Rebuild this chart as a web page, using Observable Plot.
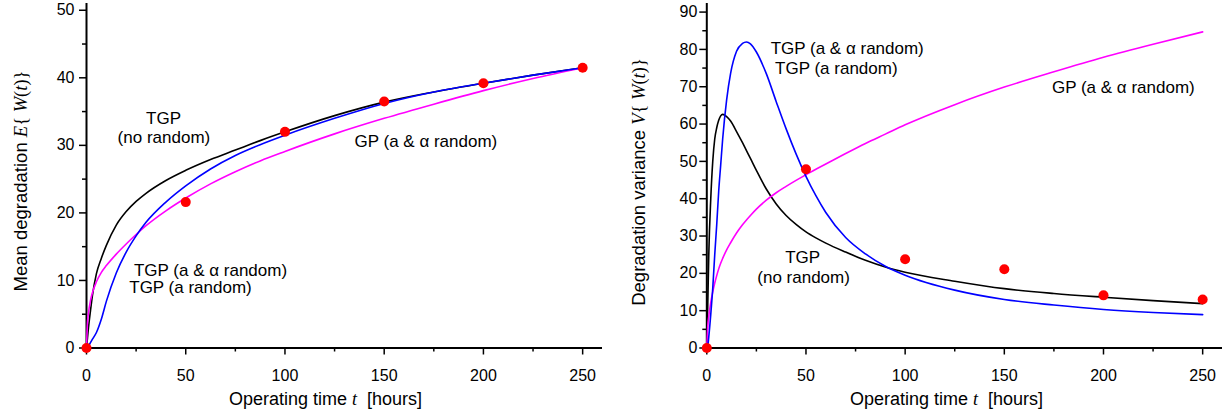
<!DOCTYPE html>
<html>
<head>
<meta charset="utf-8">
<script src="https://cdn.jsdelivr.net/npm/d3@7"></script>
<script src="https://cdn.jsdelivr.net/npm/@observablehq/plot@0.6"></script>
<style>
  html, body { margin: 0; padding: 0; background: #fff; }
  #wrap { display: flex; width: 1227px; height: 417px; overflow: hidden; }
  #wrap svg { flex: none; }
</style>
</head>
<body>
<div id="wrap"></div>
<script>
// ---- axis ticks ----
const xMajor = [0, 50, 100, 150, 200, 250];
const xMinor = [25, 75, 125, 175, 225];
const yMajorLeft = [0, 10, 20, 30, 40, 50];
const yMinorLeft = [5, 15, 25, 35, 45];
const yMajorRight = [0, 10, 20, 30, 40, 50, 60, 70, 80, 90];
const yMinorRight = [5, 15, 25, 35, 45, 55, 65, 75, 85];

// ---- observed data (red dots) ----
const obsT = [0, 50, 100, 150, 200, 250];
const obsMean = [0, 21.6, 32.0, 36.5, 39.2, 41.5];
const obsVar = [0, 47.9, 23.8, 21.1, 14.1, 13.0];

// ---- left panel: mean degradation curves ----
const tLeft = [0, 0.5, 1, 2, 3, 5, 7.5, 10, 15, 20, 25, 30, 40, 50, 62.5, 75, 87.5, 100, 125, 150, 175, 200, 225, 250];
const meanTGPnoRandom = [0, 1.5, 3, 5.5, 7.8, 11, 13.3, 15.2, 18.2, 20.2, 21.7, 22.9, 24.8, 26.3, 27.9, 29.3, 30.7, 32.0, 34.4, 36.4, 37.9, 39.2, 40.4, 41.5];
const meanTGPrandom = [0, 0.1, 0.3, 0.8, 1.3, 2.3, 4.3, 6.9, 11.1, 14.2, 16.6, 18.6, 21.6, 24.0, 26.5, 28.5, 30.1, 31.5, 34.0, 36.2, 37.9, 39.2, 40.4, 41.5];
const meanGP = [0, 3.8, 5.2, 7, 8.2, 9.8, 11.2, 12.2, 13.9, 15.4, 16.8, 18.1, 20.3, 22.2, 24.3, 26.1, 27.7, 29.1, 31.7, 34.0, 36.1, 38.1, 39.9, 41.5];

// ---- right panel: degradation variance curves ----
const tRight = [0, 0.5, 1, 2, 3, 4, 5, 6, 7, 8, 10, 12, 15, 18, 20, 22, 25, 30, 35, 40, 45, 50, 55, 60, 70, 80, 90, 100, 125, 150, 175, 200, 225, 250];
const varTGPnoRandom = [0, 12, 25, 40, 50, 56, 59, 61, 62.2, 62.6, 62, 60.8, 58, 55, 52.9, 50.8, 47.6, 42.6, 38.6, 35.5, 33.1, 31.1, 29.5, 28.1, 25.7, 23.5, 21.7, 20.3, 17.9, 15.9, 14.6, 13.6, 12.7, 11.9];
const varTGPrandom = [0, 0.5, 3, 9, 16, 25, 33, 42, 49, 56, 66.5, 73.6, 79.5, 81.6, 82, 81.5, 79.3, 73.5, 66, 58.7, 52, 46, 40.8, 36.3, 29.6, 25.2, 21.9, 19.5, 15.5, 13, 11.5, 10.3, 9.5, 8.95];
const varGP = [0, 6, 8.5, 12.2, 15, 17.4, 19.4, 21.2, 22.7, 24.0, 26.3, 28.2, 30.8, 33.0, 34.3, 35.5, 37.2, 39.6, 41.6, 43.3, 44.9, 46.4, 47.9, 49.3, 52.1, 54.8, 57.3, 59.8, 65.2, 69.9, 74, 77.9, 81.4, 84.7];

// ---- annotations ----
const notesLeftText = ["TGP", "(no random)", "GP (a & \u03b1 random)", "TGP (a & \u03b1 random)", "TGP (a random)"];
const notesLeftX = [38.8, 39, 171, 62.5, 52.4];
const notesLeftY = [34.0, 31.1, 30.5, 11.5, 9.0];
const notesRightText = ["TGP (a & \u03b1 random)", "TGP (a random)", "GP (a & \u03b1 random)", "TGP", "(no random)"];
const notesRightX = [70.8, 65.3, 210, 48.3, 48.8];
const notesRightY = [80.3, 75.0, 69.9, 24.3, 19.0];

const SANS = "Liberation Sans, Arial, Helvetica, sans-serif";
const SERIF = "Liberation Serif, Times New Roman, serif";

function table(ts, vs) { return ts.map((t, i) => ({t, v: vs[i]})); }

function panel(o) {
  return Plot.plot({
    width: o.width, height: 417,
    marginLeft: o.marginLeft, marginRight: o.marginRight, marginTop: 3, marginBottom: 69.5,
    x: {domain: [0, 260]},
    y: {domain: o.yDomain},
    style: {background: "white", color: "black", fontFamily: SANS, overflow: "visible"},
    marks: [
      Plot.axisX({ticks: xMinor, tickSize: 4, strokeWidth: 1.5, fill: "none", label: null, tickFormat: () => ""}),
      Plot.axisX({ticks: xMajor, tickSize: 7, tickPadding: 14.5, strokeWidth: 1.5, fontSize: 16, label: null, tickFormat: d => `${d}`}),
      Plot.axisY({ticks: o.yMinor, tickSize: 4, strokeWidth: 1.5, fill: "none", label: null, tickFormat: () => ""}),
      Plot.axisY({ticks: o.yMajor, tickSize: 7, tickPadding: o.yPad, strokeWidth: 1.5, fontSize: 16, label: null, tickFormat: d => `${d}`}),
      Plot.ruleY([0], {strokeWidth: 2}),
      Plot.ruleX([0], {strokeWidth: 2}),
      ...o.curves.map(c => Plot.line(table(c.t, c.v), {x: "t", y: "v", stroke: c.color, strokeWidth: 1.6, curve: "monotone-x"})),
      Plot.dot(table(obsT, o.obs), {x: "t", y: "v", r: 5, fill: "#ff0000"}),
      Plot.text(o.notes.text, {x: (d, i) => o.notes.x[i], y: (d, i) => o.notes.y[i], text: d => d, fontSize: 17, fill: "black", fontFamily: SANS})
    ]
  });
}

function addText(svg, {x, y, rotate, parts, size}) {
  const t = d3.select(svg).append("text")
    .attr("transform", `translate(${x},${y})` + (rotate ? ` rotate(${rotate})` : ""))
    .attr("text-anchor", "middle")
    .attr("font-size", size)
    .attr("fill", "black")
    .style("white-space", "pre");
  parts.forEach(p => {
    t.append("tspan")
      .attr("font-family", p.serif ? SERIF : SANS)
      .attr("font-style", p.italic ? "italic" : "normal")
      .text(p.s);
  });
}

const xTitleParts = [{s: "Operating time "}, {s: "t", serif: true, italic: true}, {s: "  [hours]"}];

const left = panel({
  width: 613, marginLeft: 86, marginRight: 11,
  yDomain: [0, 51], yMajor: yMajorLeft, yMinor: yMinorLeft, yPad: 5,
  curves: [
    {t: tLeft, v: meanTGPnoRandom, color: "#000000"},
    {t: tLeft, v: meanGP, color: "#ff00ff"},
    {t: tLeft, v: meanTGPrandom, color: "#0000ff"}
  ],
  obs: obsMean,
  notes: {text: notesLeftText, x: notesLeftX, y: notesLeftY}
});
addText(left, {x: 325.5, y: 405, parts: xTitleParts, size: 18});
addText(left, {x: 27, y: 181, rotate: -90, size: 18.5, parts: [
  {s: "Mean degradation "}, {s: "E", serif: true, italic: true}, {s: "{ ", serif: true},
  {s: "W", serif: true, italic: true}, {s: "(", serif: true}, {s: "t", serif: true, italic: true},
  {s: ")}", serif: true}
]});

const right = panel({
  width: 614, marginLeft: 93.3, marginRight: 5,
  yDomain: [0, 92.3], yMajor: yMajorRight, yMinor: yMinorRight, yPad: 2.5,
  curves: [
    {t: tRight, v: varTGPnoRandom, color: "#000000"},
    {t: tRight, v: varGP, color: "#ff00ff"},
    {t: tRight, v: varTGPrandom, color: "#0000ff"}
  ],
  obs: obsVar,
  notes: {text: notesRightText, x: notesRightX, y: notesRightY}
});
addText(right, {x: 333.5, y: 405, parts: xTitleParts, size: 18});
addText(right, {x: 32, y: 182, rotate: -90, size: 18.5, parts: [
  {s: "Degradation variance "}, {s: "V", serif: true, italic: true}, {s: "{ ", serif: true},
  {s: "W", serif: true, italic: true}, {s: "(", serif: true}, {s: "t", serif: true, italic: true},
  {s: ")}", serif: true}
]});

document.getElementById("wrap").append(left, right);
</script>
</body>
</html>
